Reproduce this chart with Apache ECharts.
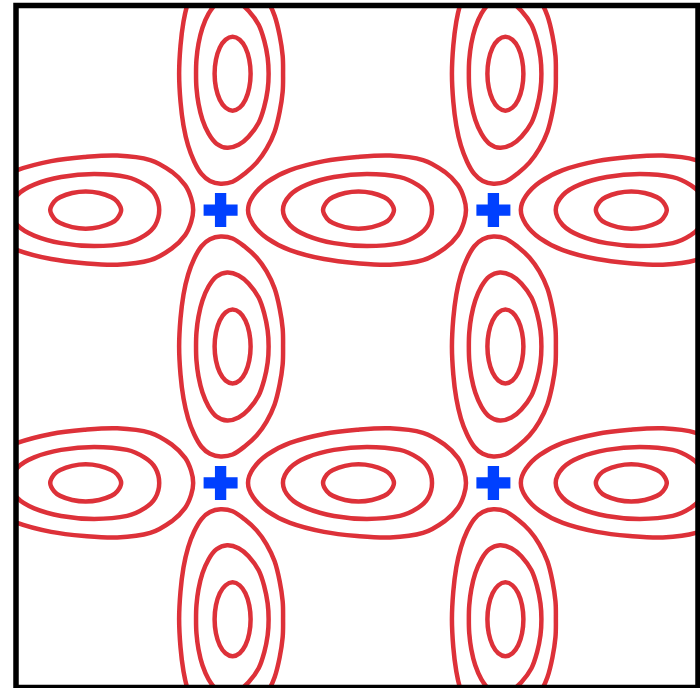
<!DOCTYPE html>
<html>
<head>
<meta charset="utf-8">
<title>Contour lobes</title>
<script src="https://cdn.jsdelivr.net/npm/echarts@6/dist/echarts.min.js"></script>
<style>
  html, body { margin: 0; padding: 0; background: #ffffff; }
  #chart { width: 700px; height: 688px; }
</style>
</head>
<body>
<div id="chart"></div>
<script>
// Plot domain (both axes)
const axisMin = 0;
const axisMax = 5;

// Saddle points marked with a blue cross
const saddlePoints = [[1.5, 3.5], [3.5, 3.5], [1.5, 1.5], [3.5, 1.5]];

// Centres of the vertically elongated lobes and of the horizontally elongated lobes
const verticalLobeCenters = [[1.5, 4.5], [3.5, 4.5], [1.5, 2.5], [3.5, 2.5], [1.5, 0.5], [3.5, 0.5]];
const horizontalLobeCenters = [[0.5, 3.5], [2.5, 3.5], [4.5, 3.5], [0.5, 1.5], [2.5, 1.5], [4.5, 1.5]];

// Contour loops of a vertical lobe, offsets from the lobe centre (outer, middle, inner level)
const verticalOuter = [[0,0.806],[0.088,0.792],[0.176,0.733],[0.264,0.652],[0.337,0.550],[0.396,0.425],[0.433,0.279],[0.455,0.132],[0.458,0],[0.455,-0.132],[0.433,-0.279],[0.396,-0.425],[0.337,-0.550],[0.264,-0.652],[0.176,-0.733],[0.088,-0.792],[0,-0.806],[-0.078,-0.786],[-0.140,-0.735],[-0.193,-0.645],[-0.238,-0.528],[-0.272,-0.381],[-0.294,-0.205],[-0.304,0],[-0.294,0.205],[-0.272,0.381],[-0.238,0.528],[-0.193,0.645],[-0.140,0.735],[-0.078,0.786]];
const verticalMiddle = [[0.048,0.543],[0.132,0.521],[0.205,0.462],[0.279,0.359],[0.320,0.242],[0.345,0.117],[0.352,0],[0.345,-0.117],[0.320,-0.242],[0.279,-0.359],[0.205,-0.462],[0.132,-0.521],[0.048,-0.543],[-0.030,-0.513],[-0.088,-0.440],[-0.133,-0.337],[-0.162,-0.220],[-0.177,-0.103],[-0.180,0],[-0.177,0.103],[-0.162,0.220],[-0.133,0.337],[-0.088,0.440],[-0.030,0.513]];
const verticalInner = [[0.088,0.271],[0.140,0.249],[0.182,0.191],[0.210,0.103],[0.220,0],[0.210,-0.103],[0.182,-0.191],[0.140,-0.249],[0.088,-0.271],[0.036,-0.249],[-0.006,-0.191],[-0.034,-0.103],[-0.044,0],[-0.034,0.103],[-0.006,0.191],[0.036,0.249]];

// Contour loops of a horizontal lobe, offsets from the lobe centre
const horizontalOuter = [[-0.799,0],[-0.762,0.103],[-0.660,0.205],[-0.491,0.293],[-0.242,0.359],[0,0.389],[0.242,0.400],[0.484,0.367],[0.645,0.279],[0.740,0.183],[0.784,0.088],[0.799,0],[0.784,-0.088],[0.740,-0.183],[0.645,-0.279],[0.484,-0.367],[0.242,-0.400],[0,-0.389],[-0.242,-0.359],[-0.491,-0.293],[-0.660,-0.205],[-0.762,-0.103]];
const horizontalMiddle = [[-0.543,0],[-0.491,0.110],[-0.367,0.187],[-0.169,0.242],[0.073,0.264],[0.315,0.242],[0.447,0.183],[0.521,0.110],[0.550,0],[0.521,-0.110],[0.447,-0.183],[0.315,-0.242],[0.073,-0.264],[-0.169,-0.242],[-0.367,-0.187],[-0.491,-0.110]];
const horizontalInner = [[-0.249,0],[-0.220,0.062],[-0.176,0.095],[-0.088,0.125],[0.011,0.136],[0.110,0.125],[0.198,0.095],[0.242,0.062],[0.271,0],[0.242,-0.062],[0.198,-0.095],[0.110,-0.125],[0.011,-0.136],[-0.088,-0.125],[-0.176,-0.095],[-0.220,-0.062]];

const contourColor = '#dd3139';
const markerColor = '#0040ff';

// Closed Catmull-Rom curve through pixel points, written as cubic Bezier path data
function closedCurvePath(pts) {
  const n = pts.length;
  let d = 'M' + pts[0][0].toFixed(2) + ' ' + pts[0][1].toFixed(2);
  for (let i = 0; i < n; i++) {
    const p0 = pts[(i - 1 + n) % n];
    const p1 = pts[i];
    const p2 = pts[(i + 1) % n];
    const p3 = pts[(i + 2) % n];
    const c1x = p1[0] + (p2[0] - p0[0]) / 6;
    const c1y = p1[1] + (p2[1] - p0[1]) / 6;
    const c2x = p2[0] - (p3[0] - p1[0]) / 6;
    const c2y = p2[1] - (p3[1] - p1[1]) / 6;
    d += 'C' + c1x.toFixed(2) + ' ' + c1y.toFixed(2) + ' ' +
         c2x.toFixed(2) + ' ' + c2y.toFixed(2) + ' ' +
         p2[0].toFixed(2) + ' ' + p2[1].toFixed(2);
  }
  return d + 'Z';
}

// One custom series per contour loop shape, repeated at every lobe centre
function contourSeries(name, centers, loop) {
  return {
    type: 'custom',
    name: name,
    clip: true,
    silent: true,
    data: centers,
    encode: { x: 0, y: 1 },
    renderItem: function (params, api) {
      const cx = api.value(0);
      const cy = api.value(1);
      const pts = loop.map(function (p) { return api.coord([cx + p[0], cy + p[1]]); });
      return {
        type: 'path',
        shape: { pathData: closedCurvePath(pts) },
        style: { fill: 'none', stroke: contourColor, lineWidth: 4.5 }
      };
    }
  };
}

const chart = echarts.init(document.getElementById('chart'), null, { renderer: 'canvas' });
chart.setOption({
  animation: false,
  backgroundColor: '#ffffff',
  grid: {
    show: true,
    z: 10,
    left: 16, top: 5.5, width: 682, height: 682,
    backgroundColor: 'transparent',
    borderColor: '#000000',
    borderWidth: 5.5
  },
  xAxis: { type: 'value', min: axisMin, max: axisMax, show: false },
  yAxis: { type: 'value', min: axisMin, max: axisMax, show: false },
  series: [
    contourSeries('vertical outer', verticalLobeCenters, verticalOuter),
    contourSeries('vertical middle', verticalLobeCenters, verticalMiddle),
    contourSeries('vertical inner', verticalLobeCenters, verticalInner),
    contourSeries('horizontal outer', horizontalLobeCenters, horizontalOuter),
    contourSeries('horizontal middle', horizontalLobeCenters, horizontalMiddle),
    contourSeries('horizontal inner', horizontalLobeCenters, horizontalInner),
    {
      type: 'scatter',
      name: 'saddle',
      silent: true,
      z: 5,
      data: saddlePoints,
      symbol: 'path://M12,0H24V12H36V24H24V36H12V24H0V12H12Z',
      symbolSize: 34,
      itemStyle: { color: markerColor, opacity: 1 }
    }
  ]
});
</script>
</body>
</html>
